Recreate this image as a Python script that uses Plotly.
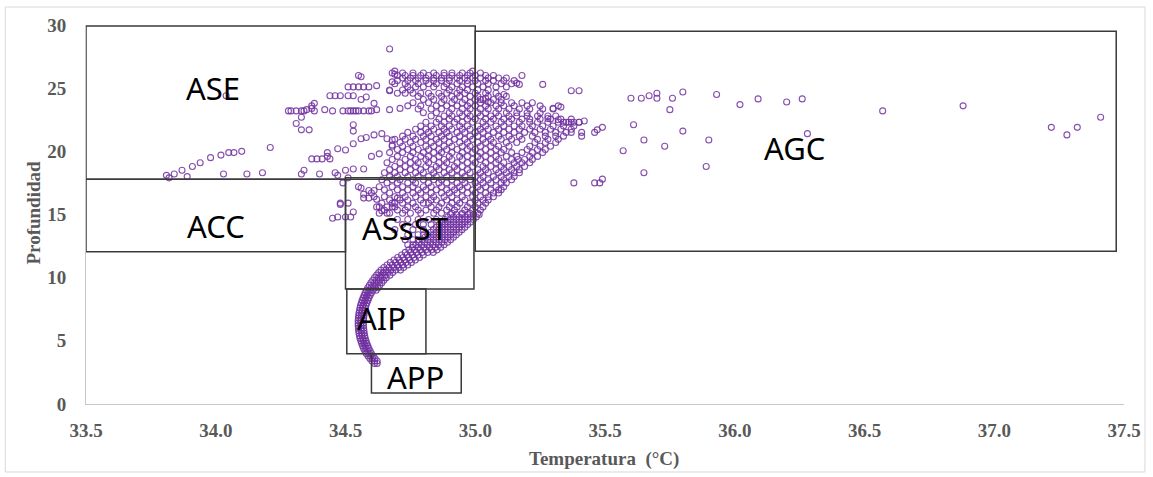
import plotly.graph_objects as go

# --- Perfil de temperatura (°C) vs profundidad -------------------------------
# Columna principal del perfil: (profundidad, [temperaturas])
filas_columna = [
    (3.2, [34.612, 34.622]),
    (3.4, [34.602, 34.612, 34.622]),
    (3.6, [34.594, 34.604, 34.614]),
    (3.8, [34.587, 34.597, 34.607]),
    (4.0, [34.580, 34.590, 34.600]),
    (4.2, [34.575, 34.585, 34.595]),
    (4.4, [34.570, 34.580, 34.590]),
    (4.6, [34.566, 34.576, 34.586]),
    (4.8, [34.562, 34.572, 34.582]),
    (5.0, [34.559, 34.569, 34.579]),
    (5.2, [34.556, 34.566, 34.576]),
    (5.4, [34.554, 34.564, 34.574]),
    (5.6, [34.552, 34.562, 34.572]),
    (5.8, [34.551, 34.561, 34.571]),
    (6.0, [34.550, 34.560, 34.570]),
    (6.2, [34.549, 34.559, 34.569]),
    (6.4, [34.549, 34.559, 34.569]),
    (6.6, [34.549, 34.559, 34.569]),
    (6.8, [34.550, 34.560, 34.570]),
    (7.0, [34.551, 34.561, 34.571]),
    (7.2, [34.552, 34.562, 34.572]),
    (7.4, [34.554, 34.564, 34.574]),
    (7.6, [34.556, 34.566, 34.576]),
    (7.8, [34.558, 34.568, 34.579]),
    (8.0, [34.561, 34.571, 34.582]),
    (8.2, [34.564, 34.575, 34.586]),
    (8.4, [34.568, 34.579, 34.590]),
    (8.6, [34.572, 34.583, 34.595]),
    (8.8, [34.576, 34.588, 34.600]),
    (9.0, [34.581, 34.593, 34.606, 34.618]),
    (9.2, [34.586, 34.599, 34.612, 34.625]),
    (9.4, [34.592, 34.605, 34.618, 34.632]),
    (9.6, [34.598, 34.612, 34.626, 34.640]),
    (9.8, [34.605, 34.619, 34.633, 34.648]),
    (10.0, [34.612, 34.627, 34.642, 34.657]),
    (10.2, [34.620, 34.637, 34.654, 34.671]),
    (10.4, [34.628, 34.646, 34.664, 34.682]),
    (10.6, [34.637, 34.656, 34.675, 34.694, 34.712]),
    (10.8, [34.648, 34.667, 34.686, 34.705, 34.724]),
    (11.0, [34.660, 34.680, 34.700, 34.720, 34.740]),
    (11.2, [34.673, 34.693, 34.713, 34.733, 34.754]),
    (11.4, [34.687, 34.707, 34.727, 34.748, 34.769]),
    (11.6, [34.701, 34.722, 34.743, 34.764, 34.785]),
    (11.8, [34.716, 34.737, 34.758, 34.779, 34.800]),
    (12.0, [34.730, 34.751, 34.773, 34.795, 34.817, 34.838]),
    (12.2, [34.744, 34.766, 34.788, 34.810, 34.832, 34.853]),
    (12.4, [34.758, 34.780, 34.802, 34.824, 34.846, 34.867]),
    (12.6, [34.771, 34.793, 34.815, 34.837, 34.859, 34.880]),
    (12.8, [34.783, 34.805, 34.827, 34.849, 34.871, 34.893]),
    (13.0, [34.795, 34.817, 34.839, 34.861, 34.883, 34.905]),
    (13.2, [34.806, 34.828, 34.850, 34.872, 34.894, 34.916]),
    (13.4, [34.817, 34.839, 34.861, 34.883, 34.905, 34.927]),
    (13.6, [34.828, 34.850, 34.872, 34.894, 34.916, 34.938]),
    (13.8, [34.839, 34.861, 34.883, 34.905, 34.927, 34.949]),
    (14.0, [34.850, 34.872, 34.894, 34.916, 34.938, 34.960]),
    (14.2, [34.861, 34.883, 34.905, 34.927, 34.949, 34.971]),
    (14.4, [34.872, 34.894, 34.916, 34.938, 34.960, 34.982]),
    (14.6, [34.883, 34.905, 34.927, 34.949, 34.971, 34.993]),
    (14.8, [34.894, 34.916, 34.938, 34.960, 34.982, 35.004]),
    (15.0, [34.905, 34.927, 34.949, 34.971, 34.993, 35.015]),
]

# Abanico de la capa superior: (profundidad, [temperaturas])
filas_abanico = [
    (12.6, [34.74, 34.76]),
    (13.0, [34.73, 34.76, 34.78]),
    (13.4, [34.74, 34.78, 34.80]),
    (13.8, [34.69, 34.76, 34.80]),
    (14.2, [34.72, 34.77, 34.80, 34.83]),
    (14.6, [34.70, 34.74, 34.78, 34.82, 34.85]),
    (15.1, [34.63, 34.67, 34.72, 34.75, 34.79, 34.84, 34.87, 34.91, 34.95, 34.98, 35.01]),
    (15.35, [34.65, 34.70, 34.73, 34.78, 34.81, 34.85, 34.89, 34.92, 34.96, 34.99, 35.02]),
    (15.6, [34.62, 34.66, 34.69, 34.74, 34.77, 34.83, 34.86, 34.90, 34.93, 34.97, 35.00, 35.03]),
    (15.9, [34.64, 34.68, 34.72, 34.76, 34.80, 34.82, 34.87, 34.91, 34.94, 34.98, 35.01, 35.04]),
    (16.15, [34.67, 34.71, 34.74, 34.79, 34.83, 34.85, 34.89, 34.93, 34.96, 35.00, 35.03, 35.05]),
    (16.4, [34.65, 34.69, 34.73, 34.77, 34.81, 34.84, 34.88, 34.91, 34.95, 34.99, 35.02, 35.05, 35.07]),
    (16.7, [34.67, 34.72, 34.76, 34.79, 34.83, 34.87, 34.90, 34.93, 34.97, 35.00, 35.04, 35.07, 35.09]),
    (16.95, [34.65, 34.70, 34.74, 34.78, 34.81, 34.85, 34.89, 34.92, 34.95, 34.99, 35.02, 35.06, 35.09, 35.10]),
    (17.2, [34.63, 34.68, 34.72, 34.76, 34.80, 34.83, 34.87, 34.91, 34.94, 34.97, 35.01, 35.04, 35.08, 35.11]),
    (17.5, [34.66, 34.70, 34.74, 34.77, 34.82, 34.86, 34.89, 34.93, 34.96, 35.00, 35.03, 35.06, 35.10, 35.12]),
    (17.75, [34.64, 34.68, 34.71, 34.76, 34.80, 34.84, 34.87, 34.91, 34.95, 34.98, 35.02, 35.05, 35.08, 35.11, 35.14]),
    (18.0, [34.67, 34.70, 34.74, 34.78, 34.82, 34.85, 34.89, 34.93, 34.96, 35.00, 35.03, 35.07, 35.10, 35.13, 35.15]),
    (18.3, [34.65, 34.69, 34.73, 34.77, 34.80, 34.84, 34.88, 34.91, 34.95, 34.98, 35.02, 35.05, 35.09, 35.12, 35.15, 35.17]),
    (18.55, [34.67, 34.71, 34.75, 34.79, 34.83, 34.86, 34.90, 34.93, 34.97, 35.01, 35.04, 35.08, 35.11, 35.14, 35.17]),
    (18.8, [34.69, 34.73, 34.77, 34.81, 34.85, 34.88, 34.92, 34.95, 34.99, 35.03, 35.06, 35.10, 35.13, 35.16, 35.19]),
    (19.1, [34.66, 34.71, 34.75, 34.78, 34.82, 34.86, 34.89, 34.93, 34.97, 35.00, 35.04, 35.08, 35.11, 35.15, 35.18, 35.21]),
    (19.35, [34.68, 34.73, 34.77, 34.81, 34.84, 34.88, 34.91, 34.95, 34.99, 35.02, 35.06, 35.09, 35.14, 35.165, 35.19, 35.22]),
    (19.6, [34.70, 34.75, 34.79, 34.82, 34.86, 34.90, 34.94, 34.97, 35.01, 35.04, 35.08, 35.12, 35.16, 35.21, 35.24]),
    (19.9, [34.67, 34.72, 34.76, 34.80, 34.84, 34.87, 34.91, 34.95, 34.99, 35.02, 35.06, 35.10, 35.14, 35.18, 35.22, 35.26]),
    (20.15, [34.70, 34.74, 34.78, 34.82, 34.86, 34.89, 34.93, 34.97, 35.00, 35.04, 35.08, 35.11, 35.20, 35.24, 35.27]),
    (20.4, [34.68, 34.72, 34.76, 34.81, 34.84, 34.88, 34.91, 34.95, 34.98, 35.02, 35.06, 35.09, 35.13, 35.21, 35.25, 35.29]),
    (20.7, [34.71, 34.75, 34.79, 34.83, 34.86, 34.90, 34.94, 34.97, 35.01, 35.04, 35.07, 35.12, 35.16, 35.23, 35.27, 35.31]),
    (20.95, [34.69, 34.73, 34.77, 34.81, 34.85, 34.88, 34.92, 34.96, 34.99, 35.03, 35.06, 35.10, 35.14, 35.18, 35.24, 35.28, 35.32]),
    (21.2, [34.72, 34.76, 34.80, 34.83, 34.87, 34.90, 34.94, 34.98, 35.01, 35.05, 35.09, 35.13, 35.17, 35.22, 35.27, 35.31, 35.34]),
    (21.5, [34.74, 34.79, 34.82, 34.86, 34.89, 34.93, 34.96, 35.00, 35.03, 35.07, 35.11, 35.15, 35.19, 35.23, 35.27, 35.31, 35.35, 35.37]),
    (21.75, [34.77, 34.81, 34.84, 34.88, 34.91, 34.95, 34.98, 35.02, 35.05, 35.09, 35.13, 35.17, 35.21, 35.25, 35.29, 35.33, 35.37]),
    (22.0, [34.79, 34.83, 34.87, 34.90, 34.94, 34.97, 35.01, 35.04, 35.08, 35.11, 35.15, 35.18, 35.22, 35.26, 35.30, 35.34, 35.38]),
    (22.3, [34.81, 34.85, 34.88, 34.92, 34.95, 34.99, 35.03, 35.06, 35.10, 35.13, 35.17, 35.21, 35.24, 35.28, 35.32, 35.36, 35.40]),
    (22.55, [34.86, 34.90, 34.93, 34.97, 35.00, 35.04, 35.07, 35.11, 35.14, 35.18, 35.21, 35.25, 35.29, 35.33, 35.37]),
    (22.8, [34.83, 34.88, 34.91, 34.95, 34.98, 35.02, 35.06, 35.09, 35.13, 35.16, 35.20, 35.24, 35.28, 35.31]),
    (23.05, [34.80, 34.85, 34.90, 34.94, 34.97, 35.01, 35.04, 35.08, 35.12, 35.16, 35.20, 35.25]),
    (23.35, [34.78, 34.83, 34.87, 34.91, 34.95, 34.98, 35.02, 35.05, 35.09, 35.13, 35.17, 35.21, 35.26, 35.30]),
    (23.6, [34.74, 34.79, 34.85, 34.89, 34.93, 34.97, 35.00, 35.04, 35.08, 35.11, 35.15, 35.20, 35.25, 35.32]),
    (23.85, [34.76, 34.82, 34.87, 34.91, 34.95, 34.98, 35.02, 35.06, 35.10, 35.14, 35.18, 35.22]),
    (24.1, [34.80, 34.84, 34.88, 34.92, 34.96, 35.00, 35.03, 35.07, 35.10]),
    (24.35, [34.78, 34.83, 34.87, 34.91, 34.94, 34.98, 35.01, 35.05, 35.09, 35.12]),
    (24.6, [34.70, 34.73, 34.76, 34.79, 34.82, 34.86, 34.89, 34.93, 34.96, 35.00, 35.04, 35.08]),
    (24.85, [34.67, 34.72, 34.75, 34.90, 34.94, 34.97, 35.01, 35.05]),
    (25.1, [34.74, 34.77, 34.80, 34.84, 34.88, 34.91, 34.95, 34.99, 35.03, 35.08, 35.12]),
    (25.35, [34.69, 34.73, 34.78, 34.82, 34.85, 34.89, 34.93, 34.97, 35.01, 35.05, 35.10, 35.14]),
    (25.6, [34.70, 34.74, 34.77, 34.81, 34.84, 34.87, 34.90, 34.94, 34.97, 35.00, 35.04, 35.07, 35.11, 35.15]),
    (25.8, [34.72, 34.75, 34.78, 34.81, 34.84, 34.87, 34.90, 34.93, 34.96, 34.99, 35.02, 35.05, 35.09, 35.12]),
    (26.0, [34.70, 34.73, 34.76, 34.79, 34.82, 34.85, 34.88, 34.91, 34.94, 34.97, 35.00, 35.04, 35.07]),
    (26.2, [34.72, 34.76, 34.80, 34.84, 34.88, 34.91, 34.95, 34.98, 35.02]),
    (26.35, [34.69, 34.99]),
]

# Puntos dispersos (temperatura, profundidad)
temp_dispersos = [
    33.81, 33.82, 33.84, 33.87, 33.89, 33.91, 33.94, 33.98, 34.02, 34.05, 34.07, 34.10,
    34.21, 34.03, 34.12, 34.18, 34.04,
    34.33, 34.34, 34.40, 34.46, 34.47, 34.50, 34.53, 34.57,
    34.37, 34.39, 34.41, 34.43, 34.44, 34.43, 34.47, 34.50, 34.53, 34.56, 34.58, 34.61,
    34.53, 34.60, 34.63, 34.64, 34.66, 34.68, 34.68,
    34.31, 34.33, 34.33, 34.36,
    34.28, 34.29, 34.31, 34.33, 34.34, 34.35, 34.37, 34.37, 34.38, 34.38, 34.42, 34.45,
    34.49, 34.51, 34.52, 34.53, 34.54, 34.55, 34.57, 34.59, 34.60, 34.62, 34.67, 34.71,
    34.44, 34.46, 34.48, 34.51, 34.53,
    34.51, 34.53, 34.55, 34.57, 34.59, 34.62, 34.55, 34.56, 34.53, 34.56, 34.58, 34.61,
    34.68, 34.69, 34.67, 34.68, 34.67,
    34.45, 34.47, 34.50, 34.52, 34.53, 34.48, 34.51, 34.55, 34.57, 34.59, 34.59, 34.61,
    34.62, 34.63, 34.64, 34.66, 34.68, 34.69, 34.70, 34.51, 34.49, 34.48, 34.56, 34.60,
    34.57, 34.61,
    35.26, 35.37, 35.40, 35.60, 35.64, 35.67, 35.70, 35.70, 35.76, 35.80, 35.93, 36.02,
    35.75, 35.61, 35.80, 35.65, 35.90, 35.73, 35.57, 35.89, 35.65, 35.38, 35.46, 35.48,
    35.49, 36.09, 36.20, 36.26, 36.28, 36.57, 36.88, 37.22, 37.28, 37.32, 37.41,
    35.28, 35.32, 35.34, 35.35, 35.37, 35.38, 35.40, 35.42, 35.41, 35.41, 35.46, 35.47,
    35.49, 35.30, 35.33, 35.18, 35.16, 35.17, 35.11, 35.04, 35.05, 35.02,
]
prof_dispersos = [
    18.1, 17.9, 18.2, 18.5, 18.0, 18.8, 19.1, 19.5, 19.7, 19.9, 19.9, 20.0,
    20.3, 18.2, 18.2, 18.3, 24.4,
    18.2, 18.5, 18.2, 18.3, 18.1, 18.5, 18.6, 18.6,
    19.4, 19.4, 19.4, 19.6, 19.4, 19.9, 20.2, 20.1, 20.6, 21.0, 21.1, 21.3,
    21.6, 19.6, 19.8, 21.4, 21.0, 20.9, 20.5,
    22.2, 22.7, 21.7, 21.7,
    23.2, 23.2, 23.2, 23.2, 23.2, 23.3, 23.4, 23.6, 23.2, 23.8, 23.3, 23.2,
    23.2, 23.2, 23.2, 23.2, 23.2, 23.2, 23.2, 23.2, 23.2, 23.3, 23.3, 23.4,
    24.4, 24.4, 24.4, 24.4, 24.4,
    25.1, 25.1, 25.1, 25.1, 25.1, 25.2, 26.0, 25.9, 22.1, 24.1, 24.3, 23.8,
    26.2, 26.1, 24.8, 25.5, 28.1,
    14.7, 14.8, 14.8, 14.8, 15.2, 15.9, 15.9, 17.2, 16.6, 16.3, 16.9, 16.9,
    16.2, 15.6, 15.3, 15.1, 15.6, 15.9, 16.3, 17.9, 17.5, 15.8, 17.1, 16.7,
    16.3, 16.4,
    25.3, 24.8, 24.8, 24.2, 24.2, 24.4, 24.6, 24.2, 24.2, 24.7, 24.5, 23.7,
    23.3, 22.1, 21.6, 20.9, 20.9, 20.4, 20.05, 18.8, 18.3, 17.5, 17.5, 17.5,
    17.8, 24.15, 23.9, 24.15, 21.4, 23.2, 23.6, 21.9, 21.3, 21.9, 22.7,
    22.6, 22.5, 22.3, 22.3, 22.3, 22.3, 22.3, 22.4, 21.5, 21.2, 21.5, 21.7,
    21.9, 23.4, 23.5, 26.0, 25.4, 25.3, 24.5, 24.2, 23.9, 24.1,
]

# Masas de agua: nombre, T mín, T máx, prof. mín, prof. máx
masas_agua = [
    ("ASE", 33.5, 35.0, 17.8, 29.93),
    ("AGC", 35.0, 37.47, 12.1, 29.5),
    ("ACC", 33.5, 34.5, 12.05, 17.8),
    ("ASsST", 34.5, 34.995, 9.1, 17.9),
    ("AIP", 34.505, 34.81, 3.97, 9.1),
    ("APP", 34.6, 34.946, 0.88, 3.97),
]
# Posición de cada etiqueta (temperatura, profundidad)
etiquetas = {
    "ASE": (33.99, 25.0),
    "AGC": (36.23, 20.3),
    "ACC": (34.0, 14.1),
    "ASsST": (34.73, 13.95),
    "AIP": (34.64, 6.8),
    "APP": (34.77, 2.1),
}

x_ticks = [33.5, 34.0, 34.5, 35.0, 35.5, 36.0, 36.5, 37.0, 37.5]
y_ticks = [0, 5, 10, 15, 20, 25, 30]

# Construcción de las series
temps, profs = [], []
for filas in (filas_columna, filas_abanico):
    for p, ts in filas:
        temps.extend(ts)
        profs.extend([p] * len(ts))
temps.extend(temp_dispersos)
profs.extend(prof_dispersos)

PURPLE = "rgba(112,48,160,0.85)"
GREY_TXT = "#595959"
serif_bold = dict(family="Liberation Serif", size=19, color=GREY_TXT, weight="bold")

fig = go.Figure()
fig.add_trace(go.Scatter(
    x=temps, y=profs, mode="markers",
    marker=dict(symbol="circle-open", size=6, color=PURPLE, line=dict(width=1.1, color=PURPLE)),
    hoverinfo="skip", showlegend=False,
))

# Cuadros de masas de agua
for nombre, t0, t1, p0, p1 in masas_agua:
    fig.add_shape(type="rect", xref="x", yref="y", x0=t0, x1=t1, y0=p0, y1=p1,
                  line=dict(color="#3a3a3a", width=1.5), fillcolor="rgba(0,0,0,0)",
                  layer="above")
    tx, py = etiquetas[nombre]
    fig.add_annotation(x=tx, y=py, xref="x", yref="y", text=nombre, showarrow=False,
                       font=dict(family="Noto Sans", size=31, color="black"))

# Borde exterior del gráfico
fig.add_shape(type="rect", xref="paper", yref="paper",
              x0=-0.0778, x1=1.0202, y0=-0.1794, y1=1.0475,
              line=dict(color="#d9d9d9", width=1), layer="below")

# Títulos de ejes
fig.add_annotation(x=0.4986, y=-0.145, xref="paper", yref="paper",
                   xanchor="center", yanchor="middle",
                   text="Temperatura  (°C)", showarrow=False,
                   font=dict(family="Liberation Serif", size=19, color=GREY_TXT, weight="bold"))
fig.add_annotation(x=-0.0505, y=0.504, xref="paper", yref="paper",
                   xanchor="center", yanchor="middle",
                   text="Profundidad", showarrow=False, textangle=-90,
                   font=dict(family="Liberation Serif", size=19, color=GREY_TXT, weight="bold"))

fig.update_layout(
    width=1153, height=477,
    margin=dict(l=86, r=26, t=25, b=73),
    paper_bgcolor="white", plot_bgcolor="white",
    showlegend=False,
)
fig.update_xaxes(
    range=[33.5, 37.5], tickvals=x_ticks, ticktext=[f"{v:.1f}" for v in x_ticks],
    showgrid=False, zeroline=False, showline=True, linecolor="#c8c8c8", linewidth=1,
    ticks="", tickfont=serif_bold, ticklabelstandoff=9,
)
fig.update_yaxes(
    range=[0, 30], tickvals=y_ticks, ticktext=[str(v) for v in y_ticks],
    showgrid=False, zeroline=False, showline=True, linecolor="#c8c8c8", linewidth=1,
    ticks="", tickfont=serif_bold, ticklabelstandoff=15,
)

fig.write_html("out.html")
